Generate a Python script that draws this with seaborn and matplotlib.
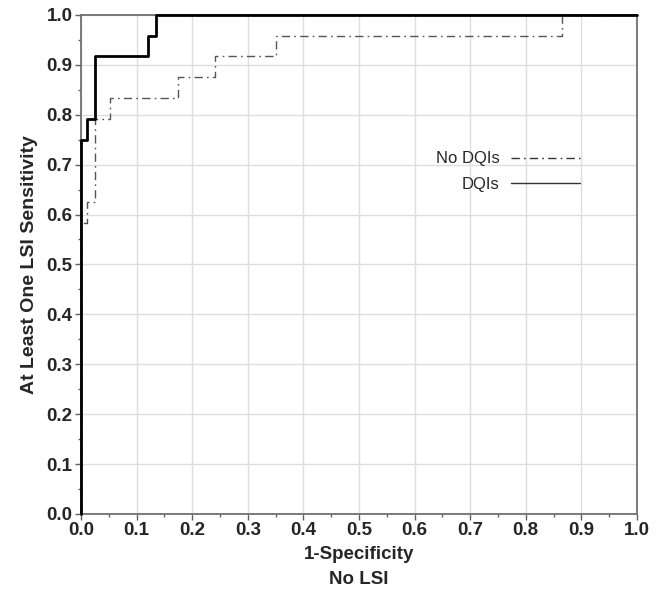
import matplotlib
matplotlib.use("Agg")
import matplotlib.pyplot as plt
import seaborn as sns
import pandas as pd
from matplotlib.ticker import MultipleLocator

# ROC corner points (1-specificity, sensitivity)
fpr_no_dqi = [0, 0, 0.011, 0.011, 0.025, 0.025, 0.052, 0.052, 0.174, 0.174,
              0.241, 0.241, 0.351, 0.351, 0.865, 0.865, 1.0]
tpr_no_dqi = [0, 0.583, 0.583, 0.625, 0.625, 0.792, 0.792, 0.833, 0.833, 0.875,
              0.875, 0.917, 0.917, 0.958, 0.958, 1.0, 1.0]

fpr_dqi = [0, 0, 0.011, 0.011, 0.025, 0.025, 0.120, 0.120, 0.134, 0.134, 1.0]
tpr_dqi = [0, 0.75, 0.75, 0.792, 0.792, 0.917, 0.917, 0.958, 0.958, 1.0, 1.0]

labels = ["No DQIs", "DQIs"]
ticks = [round(i * 0.1, 1) for i in range(11)]

sns.set_style("ticks")
plt.rcParams['font.family'] = ['Liberation Sans', 'DejaVu Sans']

fig = plt.figure(figsize=(6.56, 5.92), dpi=100)
ax = fig.add_axes([0.1235, 0.1318, 0.8475, 0.843])

df_no = pd.DataFrame({"fpr": fpr_no_dqi, "tpr": tpr_no_dqi})
df_dq = pd.DataFrame({"fpr": fpr_dqi, "tpr": tpr_dqi})

sns.lineplot(data=df_no, x="fpr", y="tpr", sort=False, estimator=None, ax=ax,
             color="#555555", linewidth=1.0, linestyle=(0, (6, 3, 1.2, 3)),
             label=labels[0], clip_on=False, zorder=3)
sns.lineplot(data=df_dq, x="fpr", y="tpr", sort=False, estimator=None, ax=ax,
             color="black", linewidth=2.0, label=labels[1], clip_on=False, zorder=4)

ax.set_xlim(0, 1)
ax.set_ylim(0, 1)
ax.set_xticks(ticks)
ax.set_yticks(ticks)
ax.set_xticklabels([f"{t:.1f}" for t in ticks])
ax.set_yticklabels([f"{t:.1f}" for t in ticks])
ax.xaxis.set_minor_locator(MultipleLocator(0.05))
ax.yaxis.set_minor_locator(MultipleLocator(0.05))
ax.tick_params(which="major", length=4, width=1, color="#606060",
               labelsize=13.5, pad=2)
ax.tick_params(which="minor", length=2.5, width=1, color="#606060")
for lab in ax.get_xticklabels() + ax.get_yticklabels():
    lab.set_fontweight("bold")

ax.grid(True, which="major", color="#dedede", linewidth=1)
for s in ax.spines.values():
    s.set_color("#707070")
    s.set_linewidth(1.3)

ax.set_xlabel("1-Specificity\nNo LSI", fontsize=13.5, fontweight="bold",
              linespacing=1.6, labelpad=5)
ax.set_ylabel("At Least One LSI Sensitivity", fontsize=14, fontweight="bold",
              labelpad=6)

leg = ax.legend(loc="upper right", bbox_to_anchor=(0.918, 0.75), frameon=False,
                markerfirst=False, fontsize=12, handlelength=4.1,
                handletextpad=0.7, labelspacing=0.65, borderpad=0.2)
for h in leg.get_lines():
    h.set_linewidth(1.0)
    h.set_color("#333333")

fig.savefig("out.png", dpi=100)
